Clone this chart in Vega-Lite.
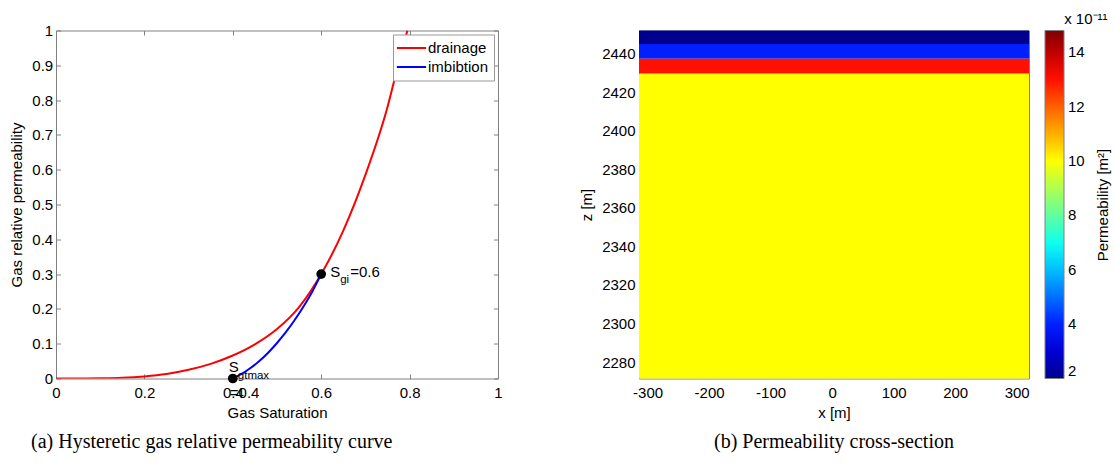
{
  "$schema": "https://vega.github.io/schema/vega-lite/v6.json",
  "background": "white",
  "padding": {"left": 9, "top": 11.5, "right": 5, "bottom": 5},
  "title": {
    "text": "x 10⁻¹¹",
    "anchor": "end",
    "frame": "bounds",
    "dx": -3,
    "offset": -4,
    "font": "Liberation Sans",
    "fontSize": 15,
    "fontWeight": "normal",
    "color": "black"
  },
  "config": {
    "font": "Liberation Sans",
    "view": {"stroke": "#808080", "strokeWidth": 1},
    "axis": {
      "labelFont": "Liberation Sans",
      "titleFont": "Liberation Sans",
      "labelFontSize": 15,
      "titleFontSize": 15,
      "titleFontWeight": "normal",
      "labelColor": "black",
      "titleColor": "black",
      "labelFlush": false,
      "labelOverlap": false,
      "grid": false,
      "domain": false,
      "tickColor": "#808080"
    },
    "legend": {
      "labelFont": "Liberation Sans",
      "titleFont": "Liberation Sans",
      "labelFontSize": 15,
      "titleFontSize": 15,
      "titleFontWeight": "normal",
      "labelColor": "black",
      "titleColor": "black"
    }
  },
  "datasets": {
    "curves": [
      {"curve": "drainage", "Sg": 0.0, "krg": 0.0},
      {"curve": "drainage", "Sg": 0.05, "krg": 0.0},
      {"curve": "drainage", "Sg": 0.1, "krg": 0.0005},
      {"curve": "drainage", "Sg": 0.15, "krg": 0.002},
      {"curve": "drainage", "Sg": 0.2, "krg": 0.006},
      {"curve": "drainage", "Sg": 0.25, "krg": 0.013},
      {"curve": "drainage", "Sg": 0.3, "krg": 0.025},
      {"curve": "drainage", "Sg": 0.35, "krg": 0.042},
      {"curve": "drainage", "Sg": 0.4, "krg": 0.066},
      {"curve": "drainage", "Sg": 0.45, "krg": 0.098},
      {"curve": "drainage", "Sg": 0.5, "krg": 0.142},
      {"curve": "drainage", "Sg": 0.55, "krg": 0.205},
      {"curve": "drainage", "Sg": 0.6, "krg": 0.3},
      {"curve": "drainage", "Sg": 0.65, "krg": 0.425},
      {"curve": "drainage", "Sg": 0.7, "krg": 0.585},
      {"curve": "drainage", "Sg": 0.75, "krg": 0.78},
      {"curve": "drainage", "Sg": 0.77, "krg": 0.88},
      {"curve": "drainage", "Sg": 0.795, "krg": 1.0},
      {"curve": "imbibtion", "Sg": 0.4, "krg": 0.0},
      {"curve": "imbibtion", "Sg": 0.42, "krg": 0.013},
      {"curve": "imbibtion", "Sg": 0.44, "krg": 0.03},
      {"curve": "imbibtion", "Sg": 0.46, "krg": 0.05},
      {"curve": "imbibtion", "Sg": 0.48, "krg": 0.074},
      {"curve": "imbibtion", "Sg": 0.5, "krg": 0.102},
      {"curve": "imbibtion", "Sg": 0.52, "krg": 0.133},
      {"curve": "imbibtion", "Sg": 0.54, "krg": 0.168},
      {"curve": "imbibtion", "Sg": 0.56, "krg": 0.207},
      {"curve": "imbibtion", "Sg": 0.58, "krg": 0.25},
      {"curve": "imbibtion", "Sg": 0.6, "krg": 0.3}
    ],
    "marked": [
      {"point": "turning", "Sg": 0.6, "krg": 0.3, "sym": "S", "sub": "gi", "val": "=0.6"},
      {"point": "trapped", "Sg": 0.4, "krg": 0.0, "sym": "S", "sub": "gtmax", "val": "=0.4"}
    ],
    "layers": [
      {"unit": "top", "x_west": -314, "x_east": 320, "z_bottom": 2445, "z_top": 2452, "perm": 2},
      {"unit": "top", "x_west": -314, "x_east": 320, "z_bottom": 2437.3, "z_top": 2445, "perm": 4},
      {"unit": "top", "x_west": -314, "x_east": 320, "z_bottom": 2429.7, "z_top": 2437.3, "perm": 13},
      {"unit": "main", "x_west": -314, "x_east": 320, "z_bottom": 2271.5, "z_top": 2429.7, "perm": 10}
    ]
  },
  "hconcat": [
    {
      "width": 442,
      "height": 348,
      "title": {
        "text": "(a) Hysteretic gas relative permeability curve",
        "orient": "bottom",
        "anchor": "start",
        "frame": "group",
        "dx": -25,
        "offset": 12,
        "font": "Liberation Serif",
        "fontSize": 20,
        "fontWeight": "normal",
        "color": "black"
      },
      "layer": [
        {
          "data": {"name": "curves"},
          "mark": {"type": "line", "strokeWidth": 2, "clip": true, "interpolate": "monotone"},
          "encoding": {
            "x": {
              "field": "Sg", "type": "quantitative",
              "scale": {"domain": [0, 1], "nice": false},
              "axis": {"title": "Gas Saturation", "values": [0, 0.2, 0.4, 0.6, 0.8, 1], "format": "~g", "tickSize": -4.5, "labelPadding": 11.2, "titlePadding": 5}
            },
            "y": {
              "field": "krg", "type": "quantitative",
              "scale": {"domain": [0, 1], "nice": false},
              "axis": {"title": "Gas relative permeability", "values": [0, 0.1, 0.2, 0.3, 0.4, 0.5, 0.6, 0.7, 0.8, 0.9, 1], "format": "~g", "tickSize": -4.5, "labelPadding": 7.8, "titlePadding": 7}
            },
            "color": {
              "field": "curve", "type": "nominal",
              "scale": {"domain": ["drainage", "imbibtion"], "range": ["#ff0000", "#0000ff"]},
              "legend": {
                "title": null,
                "orient": "top-right",
                "offset": 4,
                "symbolType": "M-1.95,0L1.95,0",
                "symbolSize": 225,
                "symbolStrokeWidth": 2,
                "symbolOffset": 5,
                "labelOffset": 8,
                "padding": 5,
                "rowPadding": 2,
                "strokeColor": "#999999",
                "fillColor": "white"
              }
            }
          }
        },
        {
          "data": {"name": "marked"},
          "mark": {"type": "circle", "size": 95, "color": "black", "opacity": 1},
          "encoding": {
            "x": {"field": "Sg", "type": "quantitative", "axis": null},
            "y": {"field": "krg", "type": "quantitative", "axis": null}
          }
        },
        {
          "data": {"name": "marked"},
          "transform": [{"filter": "datum.point === 'turning'"}],
          "mark": {"type": "text", "align": "left", "baseline": "middle", "fontSize": 15, "dx": 9, "dy": -2.4, "color": "black"},
          "encoding": {
            "x": {"field": "Sg", "type": "quantitative", "axis": null},
            "y": {"field": "krg", "type": "quantitative", "axis": null},
            "text": {"field": "sym"}
          }
        },
        {
          "data": {"name": "marked"},
          "transform": [{"filter": "datum.point === 'turning'"}],
          "mark": {"type": "text", "align": "left", "baseline": "middle", "fontSize": 11.5, "dx": 19, "dy": 6, "color": "black"},
          "encoding": {
            "x": {"field": "Sg", "type": "quantitative", "axis": null},
            "y": {"field": "krg", "type": "quantitative", "axis": null},
            "text": {"field": "sub"}
          }
        },
        {
          "data": {"name": "marked"},
          "transform": [{"filter": "datum.point === 'turning'"}],
          "mark": {"type": "text", "align": "left", "baseline": "middle", "fontSize": 15, "dx": 29, "dy": -2, "color": "black"},
          "encoding": {
            "x": {"field": "Sg", "type": "quantitative", "axis": null},
            "y": {"field": "krg", "type": "quantitative", "axis": null},
            "text": {"field": "val"}
          }
        },
        {
          "data": {"name": "marked"},
          "transform": [{"filter": "datum.point === 'trapped'"}],
          "mark": {"type": "text", "align": "left", "baseline": "middle", "fontSize": 15, "dx": -4, "dy": -11.5, "color": "black"},
          "encoding": {
            "x": {"field": "Sg", "type": "quantitative", "axis": null},
            "y": {"field": "krg", "type": "quantitative", "axis": null},
            "text": {"field": "sym"}
          }
        },
        {
          "data": {"name": "marked"},
          "transform": [{"filter": "datum.point === 'trapped'"}],
          "mark": {"type": "text", "align": "left", "baseline": "middle", "fontSize": 11.5, "dx": 5, "dy": -2.5, "color": "black"},
          "encoding": {
            "x": {"field": "Sg", "type": "quantitative", "axis": null},
            "y": {"field": "krg", "type": "quantitative", "axis": null},
            "text": {"field": "sub"}
          }
        },
        {
          "data": {"name": "marked"},
          "transform": [{"filter": "datum.point === 'trapped'"}],
          "mark": {"type": "text", "align": "left", "baseline": "middle", "fontSize": 15, "dx": -3, "dy": 14, "color": "black"},
          "encoding": {
            "x": {
              "field": "Sg", "type": "quantitative",
              "axis": {"orient": "top", "title": null, "labels": false, "values": [0, 0.2, 0.4, 0.6, 0.8, 1], "tickSize": -4.5}
            },
            "y": {
              "field": "krg", "type": "quantitative",
              "axis": {"orient": "right", "title": null, "labels": false, "values": [0, 0.1, 0.2, 0.3, 0.4, 0.5, 0.6, 0.7, 0.8, 0.9, 1], "tickSize": -4.5}
            },
            "text": {"field": "val"}
          }
        }
      ],
      "resolve": {"axis": {"x": "independent", "y": "independent"}}
    },
    {
      "width": 390,
      "height": 348,
      "title": {
        "text": "(b) Permeability cross-section",
        "orient": "bottom",
        "anchor": "middle",
        "frame": "group",
        "offset": 12,
        "font": "Liberation Serif",
        "fontSize": 20,
        "fontWeight": "normal",
        "color": "black"
      },
      "data": {"name": "layers"},
      "layer": [
        {
          "transform": [{"filter": "datum.unit === 'main'"}],
          "mark": {"type": "rect"},
          "encoding": {
            "x": {
              "field": "x_west", "type": "quantitative",
              "scale": {"domain": [-314, 320], "nice": false, "zero": false},
              "axis": {"title": "x [m]", "values": [-300, -200, -100, 0, 100, 200, 300], "labelExpr": "'' + datum.value", "ticks": false, "labelPadding": 6.7, "titlePadding": 5}
            },
            "x2": {"field": "x_east"},
            "y": {
              "field": "z_bottom", "type": "quantitative",
              "scale": {"domain": [2271.5, 2452], "nice": false, "zero": false},
              "axis": {"title": "z [m]", "values": [2280, 2300, 2320, 2340, 2360, 2380, 2400, 2420, 2440], "labelExpr": "'' + datum.value", "ticks": false, "labelPadding": 4, "titlePadding": 7.5}
            },
            "y2": {"field": "z_top"},
            "color": {
              "field": "perm", "type": "quantitative",
              "scale": {
                "domain": [2, 3.6, 6.8, 10, 13.2, 14.8],
                "range": ["#00008f", "#0000ff", "#00ffff", "#ffff00", "#ff0000", "#800000"],
                "interpolate": "rgb"
              },
              "legend": {
                "title": null,
                "orient": "none",
                "legendX": 406,
                "legendY": 0,
                "padding": 0,
                "direction": "vertical",
                "gradientLength": 348,
                "gradientThickness": 19,
                "gradientStrokeColor": "#808080",
                "gradientStrokeWidth": 1,
                "values": [2, 4, 6, 8, 10, 12, 14],
                "labelOffset": 4
              }
            }
          }
        },
        {
          "transform": [{"filter": "datum.unit === 'top'"}],
          "mark": {"type": "rect"},
          "encoding": {
            "x": {"field": "x_west", "type": "quantitative", "axis": null},
            "x2": {"field": "x_east"},
            "y": {
              "field": "z_bottom", "type": "quantitative",
              "axis": {
                "orient": "right",
                "title": "Permeability [m²]",
                "labels": false,
                "ticks": false,
                "titleAngle": 270,
                "titleX": 73,
                "titleY": 174,
                "titleAlign": "center",
                "titleBaseline": "middle"
              }
            },
            "y2": {"field": "z_top"},
            "color": {"field": "perm", "type": "quantitative"}
          }
        }
      ],
      "resolve": {"axis": {"x": "independent", "y": "independent"}}
    }
  ],
  "spacing": 141,
  "bounds": "flush",
  "resolve": {"scale": {"color": "independent"}, "legend": {"color": "independent"}}
}
